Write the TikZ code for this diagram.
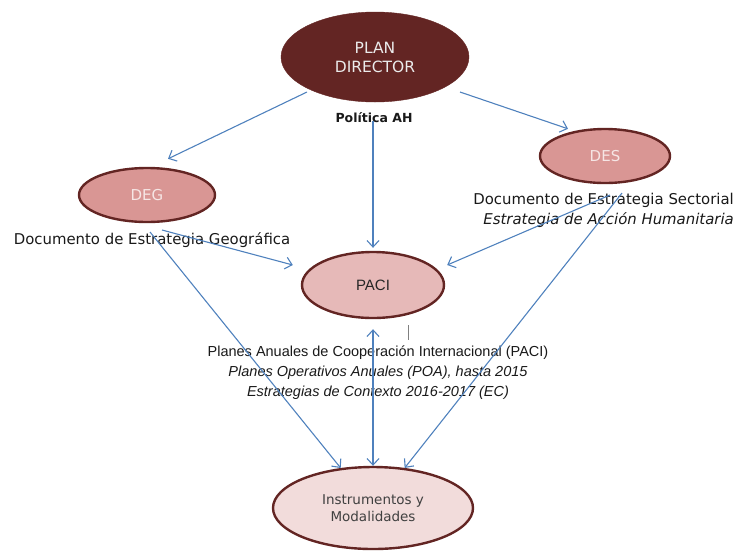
\documentclass[tikz,border=0pt]{standalone}
\usepackage{fontspec}
\setmainfont{DejaVu Sans}
\newfontfamily\arialf{Liberation Sans}
\usetikzlibrary{arrows.meta,shapes.geometric}
\definecolor{pdfill}{HTML}{632523}
\definecolor{degfill}{HTML}{D99694}
\definecolor{pacifill}{HTML}{E6B9B8}
\definecolor{insfill}{HTML}{F2DCDB}
\definecolor{bord}{HTML}{632523}
\definecolor{arrc}{HTML}{4F81BD}
\definecolor{lighttxt}{HTML}{F6E6E5}
\tikzset{
  ell/.style={ellipse, inner sep=0pt, align=center},
  pdnode/.style={ell, fill=pdfill, draw=pdfill, text=white!92!black, font=\fontsize{15.5}{19}\selectfont},
  docnode/.style={ell, fill=degfill, draw=bord, line width=2.4pt, text=lighttxt, font=\fontsize{15}{18}\selectfont},
  pacinode/.style={ell, fill=pacifill, draw=bord, line width=2.4pt, text=black!85, font=\arialf\fontsize{15}{18}\selectfont},
  insnode/.style={ell, fill=insfill, draw=bord, line width=2.4pt, text=black!75, font=\fontsize{13.5}{17}\selectfont},
  lbl/.style={inner sep=0pt, text=black!90, font=\fontsize{14.9}{20}\selectfont},
  arr/.style={draw=arrc, line width=1.1pt, -{Straight Barb[length=6.5pt,width=12pt]}},
}
\begin{document}
\begin{tikzpicture}[x=1pt,y=-1pt]
\useasboundingbox (0,0) rectangle (736,550);
% nodes
\node[pdnode, minimum width=188pt, minimum height=90pt] (pd) at (375,57) {PLAN\\DIRECTOR};
\node[lbl, font=\bfseries\fontsize{12.5}{15}\selectfont] (pol) at (374,118) {Política AH};
\node[docnode, minimum width=136pt, minimum height=54pt] (deg) at (147,195) {DEG};
\node[lbl] (degt) at (152,240) {Documento de Estrategia Geográfica};
\node[docnode, minimum width=130pt, minimum height=54pt] (des) at (605,156) {DES};
\node[lbl, anchor=east, align=right] (dest) at (734,210) {Documento de Estrategia Sectorial\\\itshape Estrategia de Acción Humanitaria};
\node[pacinode, minimum width=142pt, minimum height=66pt] (paci) at (373,285) {PACI};
\node[lbl, align=center, font=\arialf\fontsize{14.5}{20}\selectfont] (pacit) at (378,373) {Planes Anuales de Cooperación Internacional (PACI)\\\itshape Planes Operativos Anuales (POA), hasta 2015\\\itshape Estrategias de Contexto 2016-2017 (EC)};
\node[insnode, minimum width=200pt, minimum height=82pt] (ins) at (373,508) {Instrumentos y\\Modalidades};
% free ends
\coordinate (pdL) at (307,92);
\coordinate (pdR) at (460,92);
\coordinate (pdC) at (373,121);
\coordinate (degA) at (162,230);
\coordinate (degB) at (150,232);
\coordinate (desA) at (610,195);
\coordinate (desB) at (622,193);
\coordinate (tickT) at (408,325);
\coordinate (tickB) at (408,340);
% connectors
\draw[arr] (pdL) -- ([shift={(21,-8)}]deg.north);
\draw[arr] (pdR) -- ([shift={(-37,1)}]des.north);
\draw[arr] (pdC) -- ([shift={(0,-3)}]paci.north);
\draw[arr] (degA) -- ([shift={(-8,-20)}]paci.west);
\draw[arr] (desA) -- ([shift={(2,-20)}]paci.east);
\draw[arr] (degB) -- (ins);
\draw[arr] (desB) -- (ins);
\draw[arr, {Straight Barb[length=6.5pt,width=12pt]}-{Straight Barb[length=6.5pt,width=12pt]}, shorten >=10pt] (ins.north) -- (paci.south);
\draw[black!50, line width=0.8pt] (tickT) -- (tickB);
\end{tikzpicture}
\end{document}
